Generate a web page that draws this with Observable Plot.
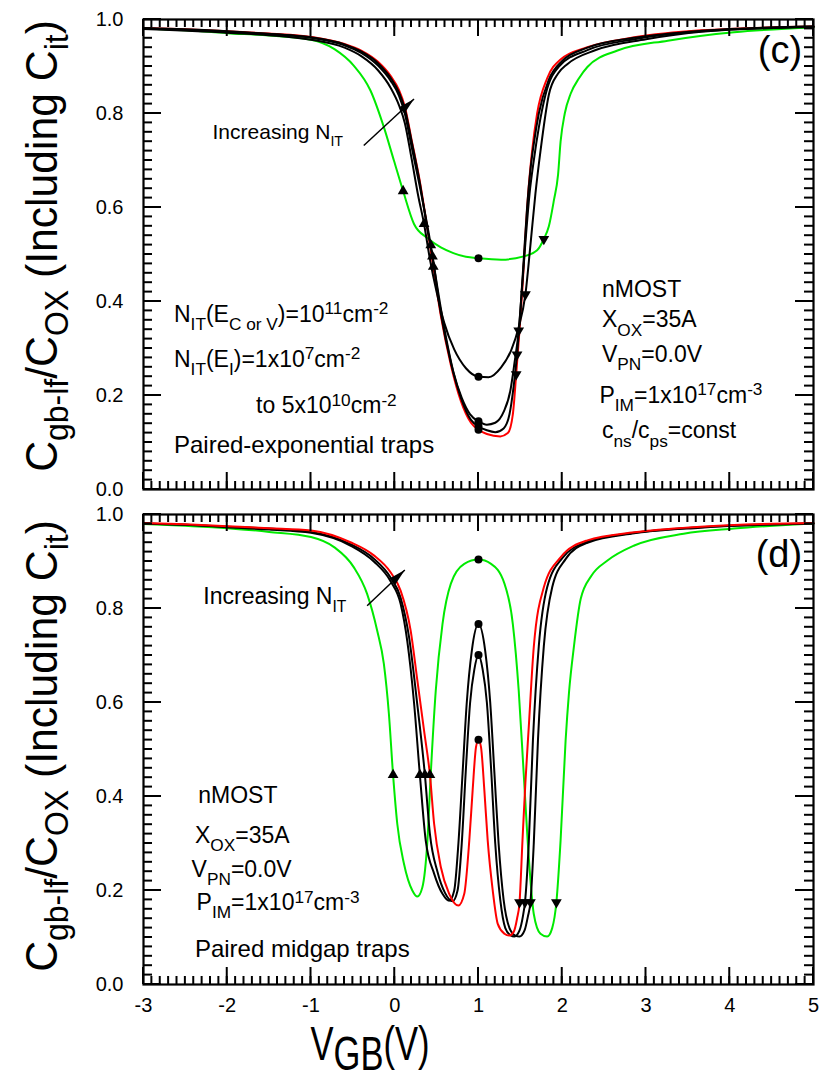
<!DOCTYPE html>
<html><head><meta charset="utf-8">
<script src="https://cdn.jsdelivr.net/npm/d3@7"></script>
<script src="https://cdn.jsdelivr.net/npm/@observablehq/plot@0.6"></script>
<style>
body{margin:0;background:#fff;}
#wrap{position:relative;width:822px;height:1082px;}
#wrap svg{position:absolute;left:0;overflow:visible;}
</style></head><body><div id="wrap"></div>
<script>
// ---------- data (VGB [V], Cgb-lf/COX) ----------
const xMajor = [-3, -2, -1, 0, 1, 2, 3, 4, 5];
const yMajor = [0, 0.2, 0.4, 0.6, 0.8, 1.0];

// Panel (c): paired-exponential traps
const cGreen = [[-3,0.981],[-2.5,0.977],[-2,0.971],[-1.5,0.966],[-1,0.957],[-0.72,0.937],[-0.49,0.902],[-0.29,0.849],[-0.13,0.771],[-0.01,0.70],[0.10,0.635],[0.23,0.565],[0.39,0.535],[0.55,0.515],[0.7,0.503],[0.85,0.495],[1,0.492],[1.27,0.489],[1.54,0.496],[1.70,0.509],[1.78,0.533],[1.84,0.56],[1.90,0.615],[1.95,0.67],[1.98,0.74],[2.03,0.8],[2.10,0.842],[2.2,0.875],[2.3,0.899],[2.66,0.934],[3.26,0.955],[4.05,0.973],[5,0.983]];
const cBlack1 = [[-3,0.98],[-2,0.972],[-1,0.957],[-0.6,0.94],[-0.4,0.922],[-0.2,0.892],[-0.05,0.855],[0.05,0.818],[0.12,0.78],[0.2,0.705],[0.28,0.625],[0.35,0.565],[0.42,0.49],[0.5,0.42],[0.59,0.355],[0.71,0.298],[0.85,0.258],[1.0,0.24],[1.12,0.239],[1.27,0.26],[1.39,0.296],[1.48,0.345],[1.56,0.415],[1.62,0.52],[1.68,0.63],[1.74,0.72],[1.84,0.84],[1.95,0.885],[2.06,0.905],[2.4,0.935],[3.0,0.958],[3.66,0.974],[5,0.984]];
const cBlack2 = [[-3,0.981],[-2,0.974],[-1,0.961],[-0.6,0.945],[-0.4,0.929],[-0.2,0.902],[-0.05,0.87],[0.05,0.838],[0.12,0.8],[0.2,0.73],[0.31,0.635],[0.43,0.52],[0.5,0.44],[0.6,0.335],[0.7,0.25],[0.8,0.195],[0.9,0.16],[1.0,0.145],[1.1,0.138],[1.2,0.142],[1.3,0.165],[1.38,0.21],[1.43,0.27],[1.48,0.338],[1.52,0.43],[1.56,0.525],[1.61,0.63],[1.66,0.7],[1.72,0.77],[1.8,0.84],[1.96,0.9],[2.3,0.935],[2.86,0.958],[3.66,0.975],[5,0.985]];
const cBlack3 = [[-3,0.982],[-2.5,0.979],[-2,0.975],[-1.5,0.969],[-1,0.962],[-0.6,0.947],[-0.4,0.932],[-0.2,0.907],[-0.05,0.876],[0.05,0.845],[0.12,0.81],[0.2,0.742],[0.3,0.652],[0.39,0.553],[0.45,0.496],[0.55,0.375],[0.67,0.27],[0.79,0.195],[0.91,0.148],[1.0,0.134],[1.1,0.126],[1.2,0.122],[1.3,0.13],[1.37,0.16],[1.42,0.22],[1.46,0.287],[1.5,0.38],[1.54,0.49],[1.58,0.6],[1.62,0.68],[1.66,0.735],[1.72,0.8],[1.84,0.872],[2.0,0.912],[2.3,0.94],[2.86,0.961],[3.66,0.976],[5,0.985]];
const cRed = [[-3,0.982],[-2.5,0.979],[-2,0.975],[-1.5,0.97],[-1,0.963],[-0.6,0.948],[-0.4,0.934],[-0.2,0.91],[-0.05,0.88],[0.05,0.85],[0.12,0.815],[0.2,0.745],[0.3,0.655],[0.39,0.555],[0.46,0.474],[0.55,0.37],[0.67,0.265],[0.79,0.188],[0.91,0.142],[1.0,0.127],[1.1,0.118],[1.26,0.113],[1.35,0.12],[1.41,0.16],[1.45,0.245],[1.49,0.34],[1.525,0.43],[1.56,0.54],[1.6,0.645],[1.64,0.72],[1.7,0.8],[1.82,0.875],[1.98,0.915],[2.3,0.941],[2.86,0.962],[3.66,0.977],[5,0.985]];
const cUp = [[0.10,0.635],[0.35,0.565],[0.43,0.52],[0.45,0.496],[0.46,0.474]];
const cMid = [[1,0.492],[1,0.24],[1,0.145],[1,0.134],[1,0.127]];
const cDown = [[1.78,0.533],[1.56,0.415],[1.48,0.338],[1.46,0.287],[1.45,0.245]];

// Panel (d): paired midgap traps
const dGreen = [[-3,0.980],[-2.5,0.976],[-2,0.971],[-1.5,0.963],[-1,0.952],[-0.72,0.930],[-0.49,0.888],[-0.33,0.831],[-0.21,0.753],[-0.13,0.682],[-0.07,0.576],[-0.02,0.446],[0.03,0.342],[0.11,0.257],[0.21,0.2],[0.27,0.187],[0.33,0.207],[0.39,0.306],[0.43,0.448],[0.49,0.626],[0.57,0.767],[0.67,0.853],[0.83,0.895],[1.0,0.904],[1.15,0.895],[1.31,0.853],[1.41,0.767],[1.48,0.626],[1.54,0.448],[1.60,0.271],[1.66,0.15],[1.74,0.108],[1.82,0.102],[1.88,0.12],[1.93,0.175],[1.98,0.306],[2.04,0.519],[2.08,0.62],[2.14,0.72],[2.22,0.82],[2.35,0.87],[2.54,0.902],[2.86,0.934],[3.45,0.959],[4.05,0.970],[5,0.981]];
const dBlack1 = [[-3,0.981],[-2.5,0.978],[-2,0.973],[-1.5,0.968],[-1,0.961],[-0.53,0.934],[-0.25,0.9],[-0.05,0.858],[0.07,0.81],[0.15,0.73],[0.23,0.6],[0.30,0.446],[0.37,0.306],[0.47,0.236],[0.57,0.193],[0.65,0.178],[0.71,0.2],[0.76,0.3],[0.81,0.45],[0.86,0.6],[0.92,0.71],[1.0,0.767],[1.08,0.71],[1.14,0.6],[1.19,0.45],[1.24,0.3],[1.3,0.18],[1.37,0.12],[1.44,0.104],[1.49,0.102],[1.55,0.115],[1.59,0.145],[1.62,0.175],[1.66,0.3],[1.71,0.52],[1.78,0.72],[1.88,0.845],[2.04,0.905],[2.3,0.94],[2.86,0.96],[3.65,0.972],[5,0.981]];
const dBlack2 = [[-3,0.981],[-2.5,0.978],[-2,0.974],[-1.5,0.97],[-1,0.963],[-0.53,0.937],[-0.25,0.906],[-0.05,0.866],[0.07,0.823],[0.17,0.74],[0.26,0.61],[0.36,0.446],[0.42,0.32],[0.51,0.24],[0.6,0.195],[0.69,0.177],[0.75,0.2],[0.8,0.3],[0.85,0.46],[0.9,0.6],[0.95,0.67],[1.0,0.701],[1.05,0.67],[1.1,0.6],[1.15,0.46],[1.2,0.3],[1.26,0.18],[1.32,0.12],[1.38,0.105],[1.43,0.102],[1.49,0.115],[1.53,0.145],[1.555,0.175],[1.6,0.3],[1.65,0.52],[1.72,0.72],[1.82,0.845],[2.0,0.907],[2.3,0.942],[2.86,0.961],[3.65,0.973],[5,0.981]];
const dRed = [[-3,0.982],[-2.5,0.979],[-2,0.975],[-1.5,0.971],[-1,0.966],[-0.53,0.941],[-0.25,0.913],[-0.05,0.877],[0.07,0.838],[0.19,0.753],[0.27,0.647],[0.35,0.54],[0.42,0.446],[0.47,0.342],[0.55,0.25],[0.65,0.193],[0.76,0.168],[0.83,0.193],[0.89,0.306],[0.93,0.413],[0.97,0.505],[1.0,0.521],[1.03,0.505],[1.07,0.413],[1.11,0.306],[1.17,0.2],[1.23,0.129],[1.31,0.108],[1.365,0.104],[1.42,0.112],[1.46,0.14],[1.49,0.175],[1.525,0.306],[1.56,0.43],[1.6,0.547],[1.66,0.718],[1.78,0.845],[1.98,0.909],[2.30,0.945],[2.86,0.962],[3.65,0.974],[5,0.982]];
const dUp = [[-0.02,0.446],[0.30,0.446],[0.36,0.446],[0.42,0.446]];
const dMid = [[1,0.904],[1,0.767],[1,0.701],[1,0.521]];
const dDown = [[1.93,0.175],[1.62,0.175],[1.555,0.175],[1.49,0.175]];

// ---------- rendering ----------
const W = 822;
const X_DOMAIN = [-3, 5], Y_DOMAIN = [0, 1];
const FONT = "'Liberation Sans', Arial, Helvetica, sans-serif";
const GREEN = "#00ea00", RED = "#ff0000", BLACK = "#000000";
const xMinor = d3.range(-30, 51).map(d => d / 10);
const yMinor = d3.range(0, 51).map(d => d / 50);

const triDown = {draw(ctx, size) {
  const y = -Math.sqrt(size / (Math.sqrt(3) * 3)), s3 = Math.sqrt(3);
  ctx.moveTo(0, -2 * y); ctx.lineTo(-s3 * y, y); ctx.lineTo(s3 * y, y); ctx.closePath();
}};
const wedge = {draw(ctx) {
  const a = -43 * Math.PI / 180, L = 17, H = 4.2;
  const ux = Math.cos(a), uy = Math.sin(a), nx = -uy, ny = ux;
  ctx.moveTo(0, 0);
  ctx.lineTo(-L * ux + H * nx, -L * uy + H * ny);
  ctx.lineTo(-L * ux - H * nx, -L * uy - H * ny);
  ctx.closePath();
}};

function makePanel({height, marginTop, marginBottom, lines, up, mid, down, arrow, xLabels}) {
  const marginLeft = 143, marginRight = 9;
  const seg = {x1: d => d[0], y1: d => d[1], x2: d => d[2], y2: d => d[3]};
  const acc = {x: d => d[0], y: d => d[1]};
  const marks = [
    ...lines.map(([data, color]) => Plot.line(data, {...acc, stroke: color, strokeWidth: 2, curve: "monotone-x"})),
    Plot.dot(up, {...acc, symbol: "triangle", r: 4, fill: BLACK}),
    Plot.dot(mid, {...acc, symbol: "circle", r: 4, fill: BLACK}),
    Plot.dot(down, {...acc, symbol: triDown, r: 4, fill: BLACK}),
    Plot.link([arrow], {...seg, stroke: BLACK, strokeWidth: 1.5}),
    Plot.dot([arrow], {x: d => d[2], y: d => d[3], symbol: wedge, r: 4, fill: BLACK}),
    Plot.frame({stroke: BLACK, strokeWidth: 2.2}),
    Plot.axisY(yMajor, {tickSize: 0, tickPadding: 20, tickFormat: d3.format(".1f"), fontSize: 20})
  ];
  if (xLabels) marks.push(Plot.axisX(xMajor, {tickSize: 0, tickPadding: 13, tickFormat: d => String(d), fontSize: 20}));
  const svg = Plot.plot({
    width: W, height, marginTop, marginBottom, marginLeft, marginRight,
    x: {domain: X_DOMAIN, axis: null, label: null},
    y: {domain: Y_DOMAIN, axis: null, label: null},
    style: {fontFamily: FONT, background: "transparent", color: "black", overflow: "visible"},
    marks
  });
  // inward ticks on all four sides, positioned through the plot's own scales
  const X = svg.scale("x"), Y = svg.scale("y");
  const xl = X.apply(X_DOMAIN[0]), xr = X.apply(X_DOMAIN[1]);
  const yb = Y.apply(Y_DOMAIN[0]), yt = Y.apply(Y_DOMAIN[1]);
  const g = d3.select(svg).append("g").attr("stroke", BLACK).attr("stroke-width", 2).attr("fill", "none");
  const seg2 = (x1, y1, x2, y2) => g.append("line").attr("x1", x1).attr("y1", y1).attr("x2", x2).attr("y2", y2);
  for (const v of yMinor) { const y = Y.apply(v); seg2(xl, y, xl + 9, y); seg2(xr, y, xr - 9, y); }
  for (const v of yMajor) { const y = Y.apply(v); seg2(xl, y, xl + 18, y); seg2(xr, y, xr - 18, y); }
  for (const v of xMinor) { const x = X.apply(v); seg2(x, yb, x, yb - 8); seg2(x, yt, x, yt + 8); }
  for (const v of xMajor) { const x = X.apply(v); seg2(x, yb, x, yb - 17); seg2(x, yt, x, yt + 17); }
  return svg;
}

// rich text with _{sub} and ^{sup}
function rich(svg, px, py, str, {size = 23, anchor = "start", rotate = 0, sx = 1, subScale = 0.75, subShift = 0.36, supShift = -0.33} = {}) {
  const t = d3.select(svg).append("text")
    .attr("transform", `translate(${px},${py}) rotate(${rotate}) scale(${sx},1)`)
    .attr("text-anchor", anchor).attr("font-family", FONT).attr("font-size", size).attr("fill", "black");
  const re = /([_^])\{([^}]*)\}|([^_^]+)/g;
  let m, cur = 0;
  while ((m = re.exec(str))) {
    const kind = m[1] || "", s = m[2] !== undefined ? m[2] : m[3];
    const shift = kind === "_" ? subShift * size : kind === "^" ? supShift * size : 0;
    t.append("tspan").attr("dy", shift - cur).attr("font-size", kind ? size * subScale : size).text(s);
    cur = shift;
  }
}

const wrap = document.getElementById("wrap");

// Panel (c)
const cSvg = makePanel({
  height: 500, marginTop: 19, marginBottom: 11,
  lines: [[cGreen, GREEN], [cRed, RED], [cBlack1, BLACK], [cBlack2, BLACK], [cBlack3, BLACK]],
  up: cUp, mid: cMid, down: cDown, arrow: [-0.37, 0.732, 0.23, 0.831], xLabels: false
});
cSvg.style.top = "0px";
wrap.appendChild(cSvg);
{
  const X = cSvg.scale("x"), Y = cSvg.scale("y");
  const T = (x, y, s, o) => rich(cSvg, X.apply(x), Y.apply(y), s, o);
  T(-2.17, 0.745, "Increasing N_{IT}", {size: 21, subScale: 0.68});
  T(4.87, 0.906, "(c)", {size: 38, anchor: "end"});
  T(-2.63, 0.356, "N_{IT}(E_{C or V})=10^{11}cm^{-2}");
  T(-2.63, 0.260, "N_{IT}(E_{I})=1x10^{7}cm^{-2}");
  T(-1.65, 0.161, "to 5x10^{10}cm^{-2}");
  T(-2.63, 0.077, "Paired-exponential traps", {size: 24});
  T(2.48, 0.409, "nMOST");
  T(2.48, 0.344, "X_{OX}=35A");
  T(2.48, 0.271, "V_{PN}=0.0V");
  T(2.45, 0.184, "P_{IM}=1x10^{17}cm^{-3}");
  T(2.48, 0.108, "c_{ns}/c_{ps}=const");
  rich(cSvg, 57, 246, "C_{gb-lf}/C_{OX} (Including C_{it})", {size: 44, anchor: "middle", rotate: -90, sx: 0.97, subScale: 0.75, subShift: 0.25});
}

// Panel (d)
const dSvg = makePanel({
  height: 582, marginTop: 14, marginBottom: 98,
  lines: [[dGreen, GREEN], [dBlack1, BLACK], [dBlack2, BLACK], [dRed, RED]],
  up: dUp, mid: dMid, down: dDown, arrow: [-0.33, 0.806, 0.12, 0.882], xLabels: true
});
dSvg.style.top = "500px";
wrap.appendChild(dSvg);
{
  const X = dSvg.scale("x"), Y = dSvg.scale("y");
  const T = (x, y, s, o) => rich(dSvg, X.apply(x), Y.apply(y), s, o);
  T(-2.28, 0.809, "Increasing N_{IT}", {size: 23, subScale: 0.68});
  T(4.87, 0.887, "(d)", {size: 38, anchor: "end"});
  T(-2.34, 0.386, "nMOST");
  T(-2.38, 0.301, "X_{OX}=35A");
  T(-2.42, 0.228, "V_{PN}=0.0V");
  T(-2.36, 0.157, "P_{IM}=1x10^{17}cm^{-3}");
  T(-2.38, 0.058, "Paired midgap traps", {size: 24});
  rich(dSvg, 57, 246, "C_{gb-lf}/C_{OX} (Including C_{it})", {size: 44, anchor: "middle", rotate: -90, sx: 0.97, subScale: 0.75, subShift: 0.25});
  rich(dSvg, 370, 560, "V_{GB}(V)", {size: 48, anchor: "middle", sx: 0.72, subScale: 1, subShift: 0.21});
}
</script></body></html>
